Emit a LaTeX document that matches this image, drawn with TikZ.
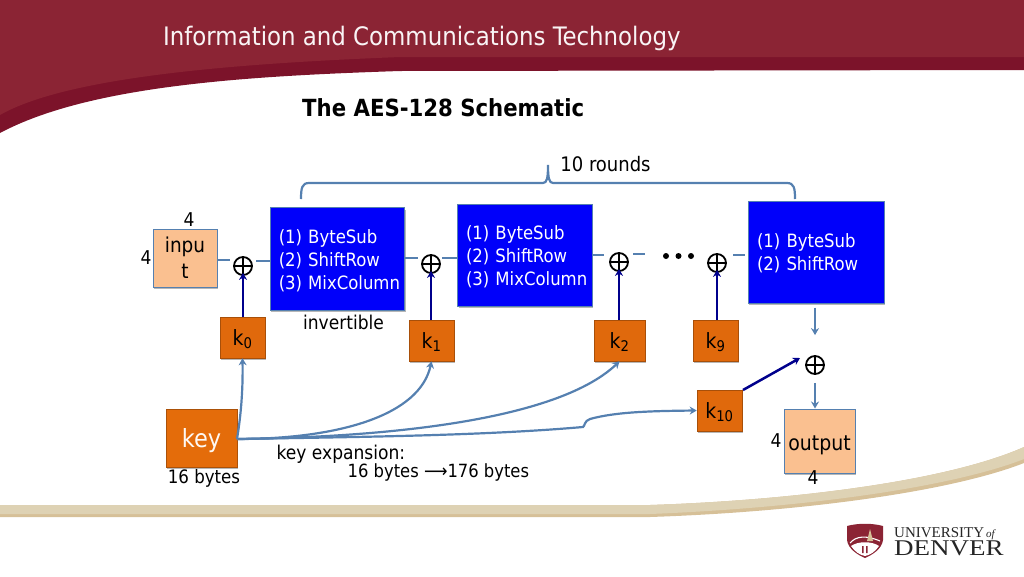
\documentclass[tikz,border=0pt]{standalone}
\usepackage{fontspec}
\setmainfont{DejaVu Sans Condensed}
\newfontfamily\logofont{Liberation Serif}
\usetikzlibrary{shadows,arrows.meta}
\definecolor{wine}{HTML}{8B2434}
\definecolor{winedark}{HTML}{7C132A}
\definecolor{sandtop}{HTML}{DED2B4}
\definecolor{sandlow}{HTML}{D6C098}
\definecolor{linkblue}{HTML}{5580B0}
\definecolor{navyline}{HTML}{00008C}
\definecolor{roundblue}{HTML}{0000FA}
\definecolor{peach}{HTML}{FAC090}
\definecolor{keyorange}{HTML}{E46C0A}
\definecolor{korange}{HTML}{E0690C}
\tikzset{
  x=1pt,y=-1pt,
  softshadow/.style={drop shadow={shadow xshift=1.2pt,shadow yshift=-2pt,opacity=.4,fill=black!70}},
  roundbox/.style={draw=linkblue,line width=1pt,fill=roundblue,text=white,inner sep=0pt,softshadow,
     minimum width=134.5pt,text width=117.5pt,align=left,font=\fontsize{18.35}{23}\selectfont},
  iobox/.style={draw=linkblue,line width=1pt,fill=peach,inner sep=0pt,softshadow,align=center},
  kbox/.style={draw=black!25!korange,line width=.6pt,fill=korange,inner sep=0pt,softshadow,
     minimum width=45pt,minimum height=41pt,text height=15pt,text depth=0pt,font=\fontsize{21}{25}\selectfont},
  xorgate/.style={circle,draw=black,line width=1.8pt,minimum size=18pt,inner sep=0pt,
     path picture={\draw[line width=1.4pt] (path picture bounding box.north)--(path picture bounding box.south)
        (path picture bounding box.west)--(path picture bounding box.east);}},
  link/.style={draw=linkblue,line width=2.4pt},
  linkarrow/.style={draw=linkblue,line width=2.2pt,-{Stealth[length=7pt,width=8pt]}},
  navyarrow/.style={draw=navyline,line width=2.5pt,-{Stealth[length=7pt,width=8pt]}},
  label/.style={inner sep=0pt,font=\fontsize{19}{22}\selectfont},
}
\newcommand{\ksub}[1]{k\textsubscript{#1}}
\begin{document}
\begin{tikzpicture}
\useasboundingbox (0,0) rectangle (1024,576);
% header
\fill[winedark] (0,0) -- (1024,0) -- (1024,70) -- (400,71) .. controls (250,76) and (90,85) .. (0,133) -- cycle;
\fill[wine] (0,0) -- (1024,0) -- (1024,57) -- (400,57) .. controls (250,63) and (70,75) .. (0,115) -- cycle;
% footer band
\fill[sandlow] (0,505) -- (650,505) .. controls (800,500) and (950,480) .. (1024,447) -- (1024,463) .. controls (950,492) and (800,512) .. (650,517) -- (0,517) -- cycle;
\fill[sandtop] (0,505) -- (650,505) .. controls (800,500) and (950,480) .. (1024,447) -- (1024,459) .. controls (950,488) and (800,508) .. (650,514) -- (0,514) -- cycle;
% logo
\fill[wine] (847,526) .. controls (858,523) and (872,523) .. (883,526) -- (883,540) .. controls (882,549) and (872,555) .. (865,558) .. controls (858,555) and (848,549) .. (847,540) -- cycle;
\draw[white,line width=1.1pt] (850,543) .. controls (856,536) and (866,535) .. (880,541);
\fill[white] (851,546) .. controls (858,541) and (872,541) .. (879,546) .. controls (875,552) and (870,555) .. (865,556) .. controls (860,555) and (855,552) .. (851,546) -- cycle;
\fill[wine] (862,546) rectangle (863.5,553) (866,546) rectangle (867.5,553);
\fill[sandlow] (870,529) -- (873,541) -- (867,541) -- cycle;
\node[inner sep=0pt,anchor=south west,text=black!85] (univ) at (894,538) {\logofont\fontsize{15}{15}\selectfont UNIVERSITY\smash{\textit{\fontsize{11}{11}\selectfont\,of}}};
\node[inner sep=0pt,anchor=south west,text=black!85] (denver) at (894,556) {\logofont\fontsize{22.5}{23}\selectfont\scalebox{1.2}[1]{DENVER}};
% titles
\node[inner sep=0pt,anchor=base west,text=white!95!wine] (hdr) at (163,45) {\fontsize{25.45}{30}\selectfont Information and Communications Technology};
\node[inner sep=0pt,anchor=base west] (ttl) at (302,116) {\fontsize{23.6}{30}\selectfont\bfseries The AES-128 Schematic};
% brace
\coordinate (brL) at (301,199);
\coordinate (brR) at (795,199);
\coordinate (brT) at (548,165);
\draw[linkblue,line width=2.2pt] (brL) .. controls (301,188) and (302,183) .. (309,183) -- (543,183) .. controls (547,183) and (548,178) .. (brT) .. controls (548,178) and (549,183) .. (553,183) -- (787,183) .. controls (794,183) and (795,188) .. (brR);
\node[label,anchor=base,font=\fontsize{20}{22}\selectfont] (rounds) at (605.5,171) {10 rounds};
% boxes
\node[iobox,minimum width=64pt,minimum height=58pt,font=\fontsize{20.5}{27}\selectfont] (input) at (185,258) {inpu\\[-1pt]t};
\node[roundbox,minimum height=102.5pt] (r1) at (337.5,258.75) {\rule{0pt}{17pt}(1) ByteSub\\(2) ShiftRow\\\mbox{(3) MixColumn}};
\node[roundbox,minimum height=101.5pt] (r2) at (524.75,255.25) {\rule{0pt}{17pt}(1) ByteSub\\(2) ShiftRow\\\mbox{(3) MixColumn}};
\node[roundbox,minimum width=136pt,text width=118pt,minimum height=102pt] (r3) at (816,252) {\rule{0pt}{16pt}(1) ByteSub\\(2) ShiftRow};
\node[xorgate] (x1) at (243,266) {};
\node[xorgate] (x2) at (431,264) {};
\node[xorgate] (x3) at (619,262) {};
\node[xorgate] (x4) at (717,263) {};
\node[xorgate] (x5) at (815,365) {};
\node[kbox] (k0) at (242.5,337.5) {\ksub{0}};
\node[kbox] (k1) at (431.5,340.5) {\ksub{1}};
\node[kbox,minimum width=51pt] (k2) at (619.5,340.5) {\ksub{2}};
\node[kbox] (k9) at (715.5,340.5) {\ksub{9}};
\node[kbox] (k10) at (719.5,410.5) {\ksub{10}};
\node[draw=black!25!keyorange,line width=.6pt,fill=keyorange,inner sep=0pt,softshadow,minimum width=71pt,minimum height=58pt,text height=18pt,text depth=0pt,text=white!95!keyorange,font=\fontsize{25}{28}\selectfont] (key) at (201.5,438) {key};
\node[iobox,minimum width=71pt,minimum height=64pt,text height=18pt,text depth=0pt,font=\fontsize{21}{25}\selectfont] (output) at (819.5,441) {output};
% dashes between
\coordinate (d1) at (230,260);
\coordinate (d2) at (256,261);
\coordinate (d3) at (418,258);
\coordinate (d4) at (442,258);
\coordinate (d5) at (604,255);
\coordinate (d6) at (633,254);
\coordinate (d7) at (645,254);
\coordinate (d8) at (733,255);
\coordinate (d9) at (745,255);
\draw[link] (input.east |- d1) -- (d1);
\draw[link] (d2) -- (r1.west |- d2);
\draw[link] (r1.east |- d3) -- (d3);
\draw[link] (d4) -- (r2.west |- d4);
\draw[link] (r2.east |- d5) -- (d5);
\draw[link] (d6) -- (d7);
\draw[link] (d8) -- (d9);
% dots
\node[circle,fill=black,minimum size=6pt,inner sep=0pt] (dotA) at (666,256) {};
\node[circle,fill=black,minimum size=6pt,inner sep=0pt] (dotB) at (678.5,256) {};
\node[circle,fill=black,minimum size=6pt,inner sep=0pt] (dotC) at (691,256) {};
% key schedule to xor
\draw[navyarrow,shorten >=-3pt] (x1 |- k0.north) -- (x1.south);
\draw[navyarrow,shorten >=-3pt] (x2 |- k1.north) -- (x2.south);
\draw[navyarrow,shorten >=-3pt] (x3 |- k2.north) -- (x3.south);
\draw[navyarrow,shorten >=-3pt] (x4 |- k9.north) -- (x4.south);
\coordinate (k10c) at (743,390);
\coordinate (x5c) at (800,358);
\draw[navyarrow] (k10c) -- (x5c);
% right column
\draw[linkarrow,shorten <=4pt,shorten >=20pt] (x5 |- r3.south) -- (x5);
\draw[linkarrow,shorten <=8pt] (x5) -- (x5 |- output.north);
% key expansion
\coordinate (kout) at (237,439);
\draw[linkarrow] (kout) .. controls (241,415) and (243,390) .. (k0.south);
\draw[linkarrow] (kout) .. controls (340,439) and (420,415) .. (k1.south);
\draw[linkarrow] (kout) .. controls (400,437) and (560,418) .. (k2.south);
\draw[linkarrow] (kout) .. controls (350,437) and (480,436) .. (583,427) .. controls (585,426) and (584,421) .. (590,419) .. controls (615,412) and (650,411) .. (k10.west);
% labels
\node[label,anchor=base] (n4a) at (189,226) {4};
\node[label,anchor=base] (n4b) at (146,264) {4};
\node[label,anchor=base] (inv) at (343.5,329) {invertible};
\node[label,anchor=base,font=\fontsize{18.5}{22}\selectfont] (by16) at (204,483) {16 bytes};
\node[label,anchor=base west] (kex) at (276.5,459) {key expansion:};
\node[label,anchor=base west,font=\fontsize{18.2}{22}\selectfont] (kex2) at (347.5,477) {16 bytes ⟶176 bytes};
\node[label,anchor=base] (n4c) at (776,447) {4};
\node[label,anchor=base] (n4d) at (813,484) {4};
\end{tikzpicture}
\end{document}
